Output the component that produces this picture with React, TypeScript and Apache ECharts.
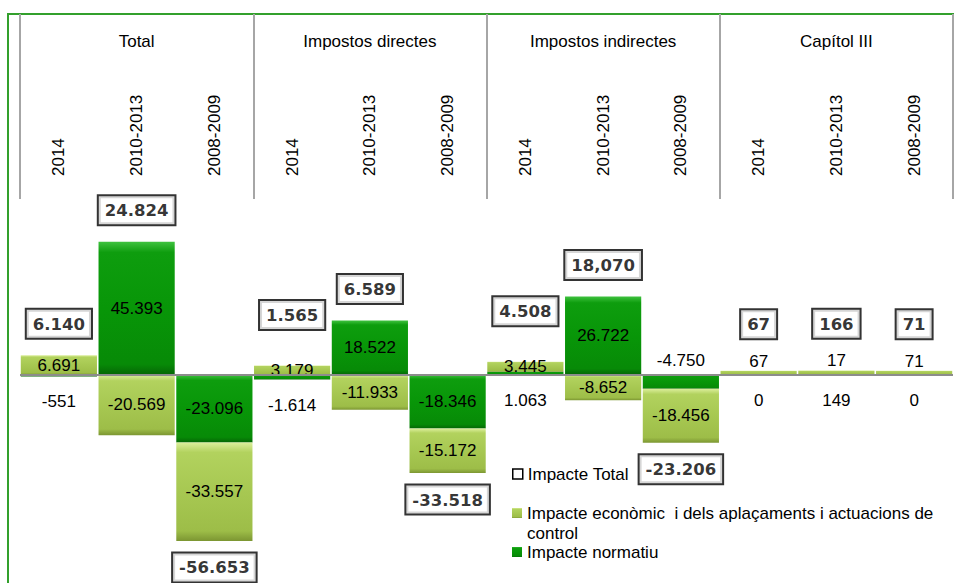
import React, { useEffect, useRef } from 'react';
import * as echarts from 'echarts';

const groups = ['Total', 'Impostos directes', 'Impostos indirectes', 'Capítol III'];
const periods = ['2014', '2010-2013', '2008-2009'];
const categories = groups.flatMap(() => periods);

const impacteNormatiu = [-551, 45393, -23096, -1614, 18522, -18346, 1063, 26722, -4750, 0, 149, 0];
const impacteEconomic = [6691, -20569, -33557, 3179, -11933, -15172, 3445, -8652, -18456, 67, 17, 71];
const impacteTotal = [6140, 24824, -56653, 1565, 6589, -33518, 4508, 18070, -23206, 67, 166, 71];
const totalLabels = ['6.140', '24.824', '-56.653', '1.565', '6.589', '-33.518', '4.508', '18,070', '-23.206', '67', '166', '71'];

const NAME_TOTAL = 'Impacte Total';
const NAME_ECON = 'Impacte econòmic i dels aplaçaments i actuacions de control';
const NAME_NORM = 'Impacte normatiu';

const FONT = 'Liberation Sans, Arial, sans-serif';

function fmt(v: number): string {
  const s = Math.abs(Math.round(v)).toString();
  const grouped = s.replace(/\B(?=(\d{3})+(?!\d))/g, '.');
  return (v < 0 ? '-' : '') + grouped;
}

export default function App() {
  const ref = useRef<HTMLDivElement>(null);
  useEffect(() => {
    document.body.style.margin = '0';
    const chart = echarts.init(ref.current!, null, { renderer: 'svg' });

    const lightGrad = new echarts.graphic.LinearGradient(0, 0, 0, 1, [
      { offset: 0, color: '#dcef9c' },
      { offset: 0.1, color: '#b2d25e' },
      { offset: 0.5, color: '#a7c852' },
      { offset: 0.9, color: '#9dbd48' },
      { offset: 1, color: '#7c9632' },
    ]);
    const darkGrad = new echarts.graphic.LinearGradient(0, 0, 0, 1, [
      { offset: 0, color: '#3fc23f' },
      { offset: 0.08, color: '#0e9d0e' },
      { offset: 0.5, color: '#089608' },
      { offset: 0.92, color: '#078a07' },
      { offset: 1, color: '#056605' },
    ]);

    const posTop = impacteNormatiu.map((n, i) => Math.max(n, 0) + Math.max(impacteEconomic[i], 0));
    const negBottom = impacteNormatiu.map((n, i) => Math.min(n, 0) + Math.min(impacteEconomic[i], 0));

    const labelBase = { color: '#000', fontSize: 17, fontFamily: FONT };

    const normData = impacteNormatiu.map((v) => {
      const a = Math.abs(v);
      const position = a < 2000 ? 'bottom' : a < 6000 ? 'top' : 'inside';
      return { value: v, label: { position, distance: position === 'bottom' ? 17 : 6 } };
    });
    const econData = impacteEconomic.map((v) => {
      const a = Math.abs(v);
      const position = a < 1000 ? 'top' : 'inside';
      return { value: v, label: { position, distance: 1 } };
    });
    const totalData = impacteTotal.map((t, i) => ({
      value: t >= 0 ? posTop[i] : negBottom[i],
      label: {
        position: t >= 0 ? 'top' : 'bottom',
        distance: t >= 0 ? (posTop[i] < 5000 ? 36 : 17) : 12,
        formatter: totalLabels[i],
      },
    }));

    const legendCommon = {
      orient: 'vertical',
      left: 512,
      padding: 0,
      itemWidth: 10,
      itemHeight: 10,
      itemGap: 5,
      icon: 'rect',
      selectedMode: false,
      textStyle: { fontSize: 17, fontFamily: FONT, color: '#000', lineHeight: 20 },
    };

    const option: any = {
      animation: false,
      backgroundColor: '#fff',
      grid: { left: 20, right: 1, top: 199, bottom: 3, containLabel: false },
      xAxis: [
        {
          type: 'category',
          position: 'top',
          data: categories,
          axisLine: { show: false },
          axisTick: { show: false },
          axisLabel: { rotate: 90, margin: 23, interval: 0, fontSize: 17, fontFamily: FONT, color: '#000' },
          splitLine: { show: false },
        },
        {
          type: 'category',
          position: 'top',
          data: groups,
          axisLine: { show: false },
          axisTick: { show: true, length: 185, interval: 0, lineStyle: { color: '#a6a6a6', width: 2 } },
          axisLabel: { margin: 149, interval: 0, fontSize: 17, fontFamily: FONT, color: '#000' },
          splitLine: { show: false },
        },
      ],
      yAxis: { type: 'value', min: -70000, max: 60000, show: false, splitLine: { show: false } },
      legend: [
        { ...legendCommon, top: 464, data: [{ name: NAME_TOTAL, itemStyle: { color: '#fff', borderColor: '#000', borderWidth: 1.5, opacity: 1 } }] },
        {
          ...legendCommon,
          top: 483,
          data: [NAME_ECON],
          formatter: () => '\nImpacte econòmic  i dels aplaçaments i actuacions de\ncontrol',
        },
        { ...legendCommon, top: 542, data: [NAME_NORM] },
      ],
      graphic: [
        {
          type: 'rect',
          silent: true,
          z: -10,
          shape: { x: 8, y: 14, width: 1000, height: 700 },
          style: { fill: 'none', stroke: '#33a02c', lineWidth: 2 },
        },
      ],
      series: [
        {
          name: NAME_NORM,
          type: 'bar',
          stack: 'impacte',
          xAxisIndex: 0,
          barCategoryGap: '2%',
          itemStyle: { color: darkGrad },
          label: { show: true, ...labelBase, formatter: (p: any) => fmt(p.value) },
          data: normData,
        },
        {
          name: NAME_ECON,
          type: 'bar',
          stack: 'impacte',
          xAxisIndex: 0,
          barCategoryGap: '2%',
          barMinHeight: 4,
          itemStyle: { color: lightGrad },
          label: { show: true, ...labelBase, formatter: (p: any) => fmt(p.value) },
          data: econData,
          markLine: {
            silent: true,
            symbol: 'none',
            label: { show: false },
            lineStyle: { color: '#8c8c8c', width: 2, type: 'solid' },
            data: [{ yAxis: 0 }],
          },
        },
        {
          name: NAME_TOTAL,
          type: 'scatter',
          xAxisIndex: 0,
          symbolSize: 1,
          itemStyle: { color: 'rgba(255,255,255,0)' },
          z: 5,
          label: {
            show: true,
            color: '#000',
            fontSize: 16.5,
            fontWeight: 'bold',
            fontFamily: 'DejaVu Sans, sans-serif',
            backgroundColor: '#fff',
            borderColor: '#000',
            borderWidth: 2,
            padding: [6, 6, 5, 6],
          },
          data: totalData,
        },
      ],
    };

    chart.setOption(option);
    return () => chart.dispose();
  }, []);

  return (
    <div
      ref={ref}
      style={{ position: 'absolute', left: 0, top: 0, width: 954, height: 583, background: '#fff' }}
    />
  );
}
